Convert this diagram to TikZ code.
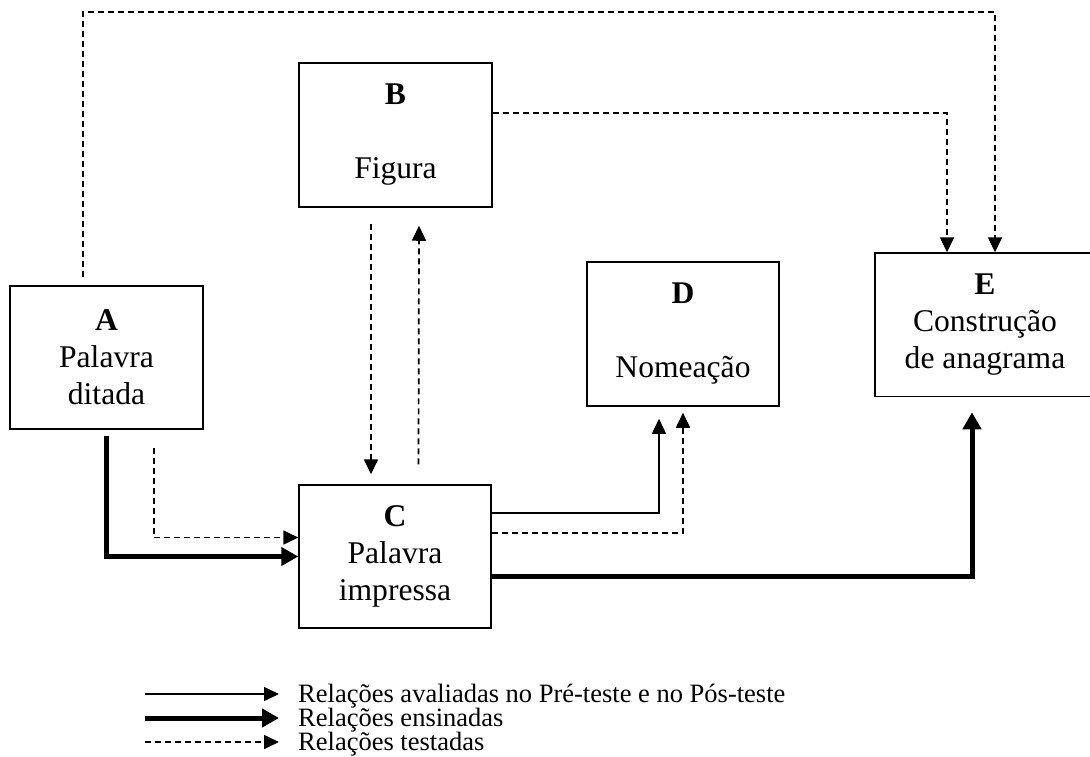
\documentclass[tikz,border=0pt]{standalone}
\usepackage{fontspec}
\setmainfont{Liberation Serif}
\usetikzlibrary{arrows.meta}

\begin{document}
\begin{tikzpicture}[x=1pt, y=-1pt,
  caixa/.style={draw, rectangle, line width=1.5pt, inner sep=0pt, align=center, font=\fontsize{31.6}{37}\selectfont},
  avaliado/.style={line width=1.5pt, -{Triangle[length=15pt,width=14pt]}},
  ensinado/.style={line width=5pt, -{Triangle[length=17pt,width=18pt]}},
  testado/.style={line width=1.7pt, dash pattern=on 6pt off 4pt, -{Triangle[length=15pt,width=14pt]}},
  legenda/.style={anchor=base west, inner sep=0pt, font=\fontsize{26.5}{26.5}\selectfont}]
 \clip (0,0) rectangle (1090,756);
 \node (A) [caixa, minimum width=193pt, minimum height=143pt] at (106.5,357.5) {\textbf{A}\\Palavra\\ditada};
 \node (B) [caixa, minimum width=193pt, minimum height=144pt] at (395.5,135) {\textbf{B}\\[37pt]Figura};
 \node (C) [caixa, minimum width=192pt, minimum height=143pt] at (395,556.5) {\textbf{C}\\Palavra\\impressa};
 \node (D) [caixa, minimum width=192pt, minimum height=144pt] at (683,334) {\textbf{D}\\[37pt]Nomeação};
 \node (E) [caixa, minimum width=220pt, minimum height=143.5pt] at (985,324.75) {\textbf{E}\\Construção\\de anagrama};

 \draw[testado] ([xshift=-23.5pt,yshift=8pt]A.north) -- ++(0,-265) -| ([xshift=10pt]E.north);
 \draw[testado] ([yshift=22pt]B.east) -| ([xshift=-38pt]E.north);
 \draw[testado] ([xshift=-24.5pt,yshift=-16pt]B.south) -- ([xshift=-24pt,yshift=10pt]C.north);
 \draw[testado] ([xshift=23.5pt,yshift=20pt]C.north) -- ([xshift=23.5pt,yshift=-18pt]B.south);
 \draw[ensinado] ([yshift=-6pt]A.south) |- (C.west);
 \draw[testado] ([xshift=47.5pt,yshift=-18pt]A.south) |- ([yshift=19pt]C.west);
 \draw[avaliado] ([yshift=43.5pt]C.east) -| ([xshift=-24pt,yshift=-12pt]D.south);
 \draw[testado] ([yshift=23.5pt]C.east) -| ([yshift=-6pt]D.south);
 \draw[ensinado] ([yshift=-19.5pt]C.east) -| ([xshift=-13pt,yshift=-15pt]E.south);

 \node (leg1) [legenda] at (298,702) {Relações avaliadas no Pré-teste e no Pós-teste};
 \node (leg2) [legenda] at (298,726) {Relações ensinadas};
 \node (leg3) [legenda] at (298,750) {Relações testadas};
 \draw[avaliado] ([xshift=-153pt,yshift=8pt]leg1.base west) -- ([xshift=-19pt,yshift=8pt]leg1.base west);
 \draw[ensinado] ([xshift=-153pt,yshift=8pt]leg2.base west) -- ([xshift=-19pt,yshift=8pt]leg2.base west);
 \draw[testado] ([xshift=-153pt,yshift=8pt]leg3.base west) -- ([xshift=-19pt,yshift=8pt]leg3.base west);
\end{tikzpicture}
\end{document}
